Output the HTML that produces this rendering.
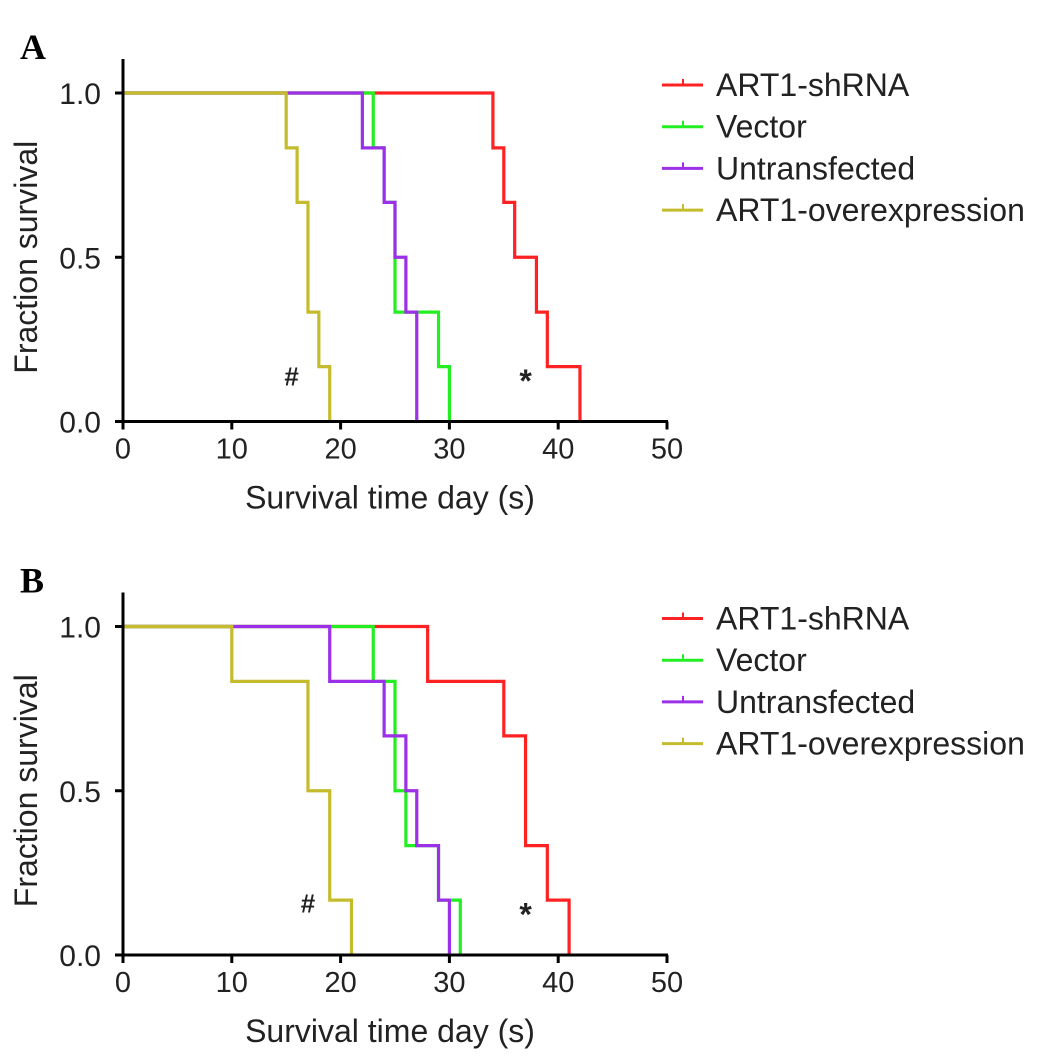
<!DOCTYPE html>
<html><head><meta charset="utf-8"><style>
body{margin:0;background:#fff;}
svg{display:block;font-family:"Liberation Sans",Arial,sans-serif;}
</style></head><body>
<svg id="c" width="1048" height="1064" xmlns="http://www.w3.org/2000/svg"></svg>
<script>
const NS='http://www.w3.org/2000/svg';
const seriesNames=['ART1-shRNA','Vector','Untransfected','ART1-overexpression'];
const seriesColors=['#ff2222','#22ee22','#9b30e8','#c4bc2c'];
// Panel A: [day, survival after drop]
const aRed=[[34,0.833],[35,0.667],[36,0.5],[38,0.333],[39,0.167],[42,0]];
const aGreen=[[23,0.833],[24,0.667],[25,0.333],[29,0.167],[30,0]];
const aPurple=[[22,0.833],[24,0.667],[25,0.5],[26,0.333],[27,0]];
const aYellow=[[15,0.833],[16,0.667],[17,0.333],[18,0.167],[19,0]];
// Panel B
const bRed=[[28,0.833],[35,0.667],[37,0.333],[39,0.167],[41,0]];
const bGreen=[[23,0.833],[25,0.5],[26,0.333],[29,0.167],[31,0]];
const bPurple=[[19,0.833],[24,0.667],[26,0.5],[27,0.333],[29,0.167],[30,0]];
const bYellow=[[10,0.833],[17,0.5],[19,0.167],[21,0]];
const xTicks=[0,10,20,30,40,50];
const yTicks=[0,0.5,1.0];
const yTickLabels=['0.0','0.5','1.0'];
const annA=[['#',15.5,0.14],['*',37,0.12]];
const annB=[['#',17,0.16],['*',37,0.12]];

const svg=document.getElementById('c');
function el(tag,attrs,parent){const e=document.createElementNS(NS,tag);for(const k in attrs)e.setAttribute(k,attrs[k]);(parent||svg).appendChild(e);return e;}

function panel(letter,top,data,ann){
  const g=el('g',{});
  
  
  const x0=123,x1=667,y1=top,y0=top+328.5;
  const X=v=>x0+(x1-x0)*v/50;
  const Y=v=>y0-(y0-y1)*v;
  const L=el('text',{x:20,y:top-34,'font-size':36,'font-weight':'bold','font-family':'Liberation Serif,serif'},g);
  L.textContent=letter;
  
  
  data.forEach((pts,i)=>{
    let d='M'+X(0)+','+Y(1);let cur=1;
    pts.forEach(p=>{d+=' L'+X(p[0])+','+Y(cur)+' L'+X(p[0])+','+Y(p[1]);cur=p[1];});
    const pa=el('path',{d:d,fill:'none',stroke:seriesColors[i],'stroke-width':3.2},g);
    
    
  });
  const ax=el('path',{d:`M${x0},${y1-34} L${x0},${y0} L${x1+1},${y0}`,fill:'none',stroke:'#000','stroke-width':3},g);
  
  
  xTicks.forEach(t=>{
    el('line',{x1:X(t),x2:X(t),y1:y0,y2:y0+8,stroke:'#000','stroke-width':3},g);
    const tx=el('text',{x:X(t),y:y0+37,'font-size':29,'text-anchor':'middle',fill:'#222'},g);
    tx.textContent=t;
    
    
  });
  yTicks.forEach((t,i)=>{
    el('line',{x1:x0-8,x2:x0,y1:Y(t),y2:Y(t),stroke:'#000','stroke-width':3},g);
    const tx=el('text',{x:x0-22,y:Y(t)+11,'font-size':30,'text-anchor':'end',fill:'#222'},g);
    tx.textContent=yTickLabels[i];
    
    
  });
  const xt=el('text',{x:390,y:y0+87,'font-size':32,'text-anchor':'middle',fill:'#222'},g);
  xt.textContent='Survival time day (s)';
  
  
  const yt=el('text',{x:0,y:0,'font-size':32,'text-anchor':'middle',fill:'#222',transform:`translate(37,${(y0+y1)/2}) rotate(-90)`},g);
  yt.textContent='Fraction survival';
  
  
  ann.forEach(a=>{
    const t=el('text',{x:X(a[1]),y:Y(a[2])+10,'font-size':a[0]==='*'?32:26,'font-weight':'bold','text-anchor':'middle',fill:'#222'},g);
    t.textContent=a[0];
    
    
  });
  seriesNames.forEach((n,i)=>{
    const ly=top-8+i*41.7;
    const lg=el('g',{},g);
    
    
    el('line',{x1:662,x2:703,y1:ly,y2:ly,stroke:seriesColors[i],'stroke-width':3},lg);
    el('line',{x1:683,x2:683,y1:ly-6,y2:ly,stroke:seriesColors[i],'stroke-width':2},lg);
    const t=el('text',{x:716,y:ly+11,'font-size':32,fill:'#222'},lg);
    t.textContent=n;
  });
}
panel('A',93,[aRed,aGreen,aPurple,aYellow],annA);
panel('B',626.5,[bRed,bGreen,bPurple,bYellow],annB);
</script>
</body></html>
